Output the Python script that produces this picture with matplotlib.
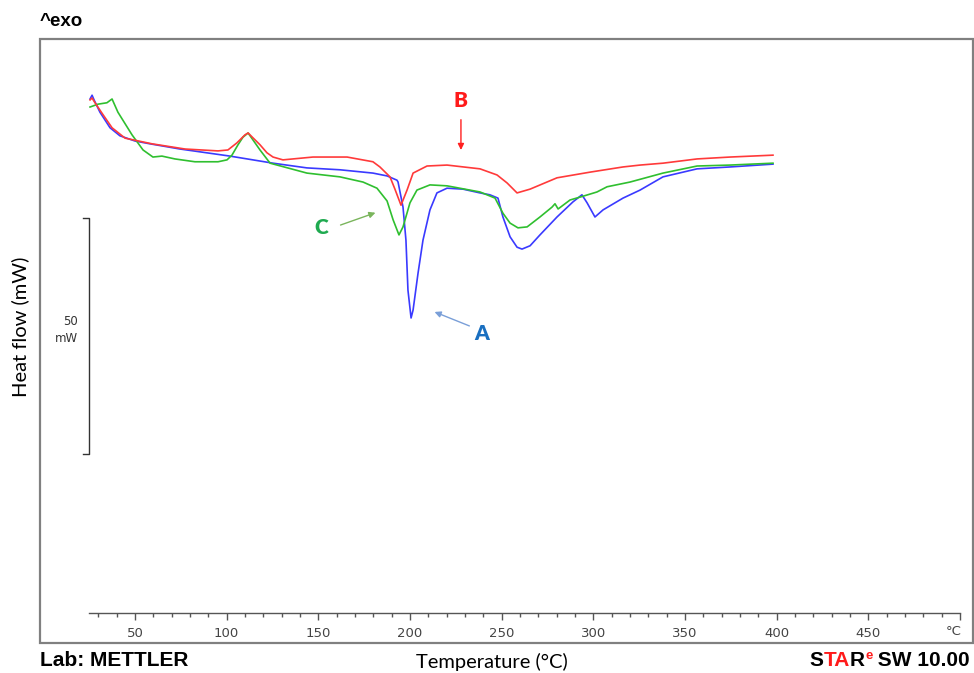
import matplotlib as mpl
mpl.use("Agg")
import matplotlib.pyplot as plt
from matplotlib.patches import Rectangle

mpl.rcParams['font.family'] = ['Lato', 'DejaVu Sans']

# DSC curves: temperature (°C) and heat flow (mW, arbitrary offset)
t_a = [25.5, 26.6, 27.7, 30.9, 36.4, 41.8, 50.0, 58.2, 74.6, 85.5, 101.8, 125.3, 143.8,
       161.8, 179.8, 187.5, 192.9, 193.5, 196.2, 197.8, 198.9, 200.6, 201.7, 204.4, 207.1,
       210.9, 214.7, 220.2, 228.9, 238.2, 243.6, 248.0, 250.7, 254.6, 258.4, 261.1, 265.5,
       270.9, 280.2, 288.9, 293.8, 296.6, 300.9, 305.3, 316.2, 325.5, 338.0, 356.6, 374.6, 398.0]
hf_a = [21.4, 22.2, 21.2, 18.6, 15.3, 13.6, 12.5, 11.9, 10.8, 10.2, 9.3, 7.8, 6.8,
        6.4, 5.7, 5.1, 4.2, 3.8, -1.5, -8.5, -19.1, -25.0, -23.3, -15.5, -8.5,
        -2.1, 1.5, 2.5, 2.3, 1.5, 1.1, 0.4, -3.6, -7.8, -10.0, -10.4, -9.7,
        -7.4, -3.6, -0.4, 1.1, -0.6, -3.6, -2.1, 0.4, 2.1, 4.9, 6.6, 7.0, 7.6]

t_b = [25.5, 26.6, 27.7, 32.0, 37.5, 44.6, 59.3, 77.3, 95.3, 100.7, 105.6, 110.0, 111.7,
       118.2, 122.0, 125.3, 130.7, 147.1, 165.7, 179.8, 183.6, 189.1, 191.8, 195.1, 198.4,
       201.7, 209.3, 220.2, 238.2, 247.5, 253.0, 258.4, 265.5, 280.2, 298.2, 316.2, 325.5,
       338.0, 356.6, 374.6, 398.0]
hf_b = [21.2, 21.6, 20.9, 18.4, 15.3, 13.1, 11.9, 10.8, 10.4, 10.6, 12.1, 13.8, 14.2,
        11.7, 10.0, 9.1, 8.5, 9.1, 9.1, 8.1, 7.0, 4.9, 2.3, -1.1, 2.1,
        5.7, 7.2, 7.4, 6.6, 5.3, 3.6, 1.5, 2.3, 4.7, 5.9, 7.0, 7.4,
        7.8, 8.7, 9.1, 9.5]

t_c = [25.5, 29.8, 34.7, 37.5, 40.7, 48.4, 54.4, 59.8, 64.7, 71.8, 82.7, 95.3, 100.2,
       102.9, 106.2, 108.9, 111.7, 118.2, 123.7, 143.8, 161.8, 174.4, 182.0, 187.5, 190.8,
       194.0, 196.2, 200.0, 203.8, 210.9, 220.2, 238.2, 246.4, 250.7, 254.6, 258.9, 263.9,
       270.9, 277.5, 279.1, 280.8, 287.3, 294.4, 302.0, 307.5, 320.0, 338.0, 356.6, 374.6, 398.0]
hf_c = [19.7, 20.3, 20.6, 21.4, 18.6, 13.8, 10.6, 9.1, 9.3, 8.7, 8.1, 8.1, 8.5,
        9.5, 11.7, 13.3, 14.2, 10.6, 7.8, 5.7, 4.9, 3.8, 2.5, -0.2, -4.2,
        -7.4, -5.7, -0.6, 2.1, 3.2, 3.0, 1.7, 0.4, -2.8, -4.9, -5.9, -5.7,
        -3.6, -1.5, -0.8, -1.9, 0.0, 0.8, 1.7, 2.8, 3.8, 5.7, 7.2, 7.4, 7.8]

major_ticks = [50, 100, 150, 200, 250, 300, 350, 400, 450, 500]
major_labels = ['50', '100', '150', '200', '250', '300', '350', '400', '450', '']
minor_ticks = [t for t in range(30, 500, 10) if t % 50 != 0]

fig = plt.figure(figsize=(9.74, 6.73), dpi=100)
ax = fig.add_axes([40/974, 30/673, 933/974, 604/673])
ax.set_xlim(-1.8, 507.1)
ax.set_ylim(-93.86, 34.11)

ax.plot(t_a, hf_a, color='#3a3aff', lw=1.2)
ax.plot(t_c, hf_c, color='#2fbf2f', lw=1.2)
ax.plot(t_b, hf_b, color='#ff3a3a', lw=1.2)

# frame
ax.add_patch(Rectangle((0, 0), 1, 1, transform=ax.transAxes, fill=False,
                       ec='#808080', lw=1.6, clip_on=False))
for s in ['left', 'right', 'top']:
    ax.spines[s].set_visible(False)
ax.spines['bottom'].set_position(('data', -87.5))
ax.spines['bottom'].set_bounds(25, 500)
ax.spines['bottom'].set_color('#555555')
ax.spines['bottom'].set_linewidth(1.0)
ax.set_yticks([])
ax.set_xticks(major_ticks)
ax.set_xticklabels(major_labels)
ax.set_xticks(minor_ticks, minor=True)
ax.tick_params(axis='x', which='major', direction='out', length=5, width=1,
               color='#555555', labelsize=9.5, labelcolor='#444444', pad=5)
ax.tick_params(axis='x', which='minor', direction='out', length=3, width=1,
               color='#555555')
for lb in ax.get_xticklabels():
    lb.set_family('DejaVu Sans')
ax.text(496.5, -90.1, '°C', ha='center', va='top',
        fontsize=9.5, color='#444444', family='DejaVu Sans')

# 50 mW scale bar
ax.plot([21.7, 25.1, 25.1, 21.7], [-3.8, -3.8, -53.8, -53.8], color='#333333', lw=1)
ax.text(19.0, -27.5, '50\nmW', ha='right', va='center', fontsize=8.5,
        color='#333333', family='DejaVu Sans', linespacing=1.4, multialignment='right')

# annotations
ax.annotate('', xy=(227.8, 10.0), xytext=(227.8, 17.6),
            arrowprops=dict(arrowstyle='-|>', color='#ff2020', lw=1, mutation_scale=9))
ax.text(227.8, 21.0, 'B', color='#ff1a1a', fontsize=15, fontweight='heavy',
        ha='center', va='center')
ax.annotate('', xy=(182.6, -2.5), xytext=(160.7, -5.5),
            arrowprops=dict(arrowstyle='-|>', color='#7ab55c', lw=1, mutation_scale=9))
ax.text(151.5, -5.8, 'C', color='#1faa50', fontsize=15, fontweight='heavy',
        ha='center', va='center')
ax.annotate('', xy=(212.0, -23.5), xytext=(233.8, -26.9),
            arrowprops=dict(arrowstyle='-|>', color='#7a9fd8', lw=1, mutation_scale=9))
ax.text(239.3, -28.2, 'A', color='#1a6fc0', fontsize=15, fontweight='heavy',
        ha='center', va='center')

# labels around the frame
fig.text(20/974, 1 - 327/673, 'Heat flow (mW)', rotation=90, ha='center', va='center',
         fontsize=14.5)
fig.text(492/974, 1 - 662/673, 'Temperature (°C)', ha='center', va='center', fontsize=14.5)
fig.text(40/974, 1 - 22/673, '^exo', ha='left', va='center', fontsize=13.5,
         fontweight='bold', family='Liberation Sans')
fig.text(40/974, 1 - 660/673, 'Lab: METTLER', ha='left', va='center', fontsize=15,
         fontweight='bold', family='Liberation Sans')

# STARe SW 10.00, built right to left
renderer = fig.canvas.get_renderer()
y_base = 1 - 666/673
x_right = 970
pieces = [(' SW 10.00', 'black', 15, 0), ('e', '#ff1a1a', 9.5, 7),
          ('R', 'black', 15, 0), ('TA', '#ff1a1a', 15, 0), ('S', 'black', 15, 0)]
for txt, col, fs, dy in pieces:
    t = fig.text(x_right/974, y_base + dy/673, txt, ha='right', va='baseline',
                 fontsize=fs, fontweight='bold', color=col, family='Liberation Sans')
    x_right = t.get_window_extent(renderer).x0

fig.savefig('out.png', dpi=100)
